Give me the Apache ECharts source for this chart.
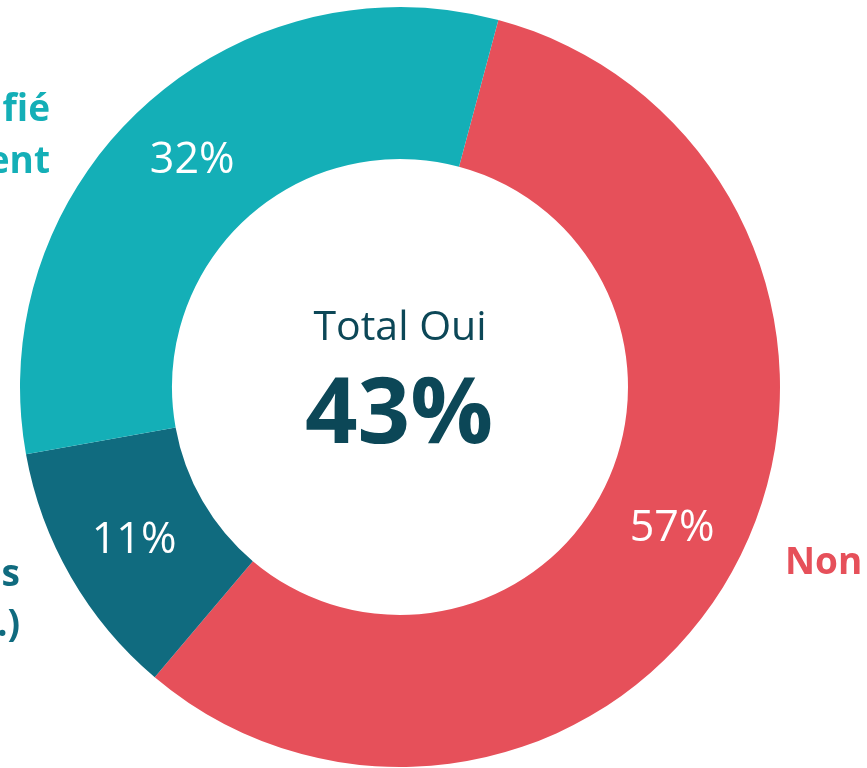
<!DOCTYPE html>
<html>
<head>
<meta charset="utf-8">
<script src="https://cdn.jsdelivr.net/npm/echarts@6/dist/echarts.min.js"></script>
<style>
  html, body { margin: 0; padding: 0; background: #fff; }
  #chart { width: 867px; height: 768px; }
</style>
</head>
<body>
<div id="chart"></div>
<script>
// données
const names = ['Non', 'Oui, via des fonds\n(ETF, OPC, etc.)', 'Oui, diversifié\nrégulièrement']
const values = [57, 11, 32]
const colors = ['#e6505a', '#106b7f', '#14afb7']
const centerTitle = 'Total Oui'
const centerValue = '43%'

const chart = echarts.init(document.getElementById('chart'))
const font = '"Open Sans", "Noto Sans", sans-serif'

chart.setOption({
  animation: false,
  series: [
    {
      type: 'pie',
      center: [400, 387],
      radius: [228, 380],
      startAngle: 75,
      clockwise: true,
      silent: true,
      data: names.map((n, i) => ({ name: n, value: values[i], itemStyle: { color: colors[i] } })),
      label: {
        show: true,
        position: 'inside',
        formatter: p => p.value + '%',
        color: '#fff',
        fontFamily: font,
        fontSize: 43,
        fontWeight: 'normal',
        padding: [22, 0, 0, 0],
      },
      labelLine: { show: false },
    },
  ],
  graphic: [
    // texte central
    {
      type: 'text', x: 400, y: 328,
      style: { text: centerTitle, fill: '#0c4757', font: '400 41px ' + font, textAlign: 'center', textVerticalAlign: 'middle' },
    },
    {
      type: 'text', x: 399, y: 417,
      style: { text: centerValue, fill: '#0c4757', font: '700 92px ' + font, textAlign: 'center', textVerticalAlign: 'middle' },
    },
    // libellés des catégories
    {
      type: 'text', x: 785, y: 563,
      style: { text: names[0], fill: colors[0], font: '700 37px ' + font, textAlign: 'left', textVerticalAlign: 'middle' },
    },
    {
      type: 'text', x: 20, y: 600,
      style: { text: names[1], fill: colors[1], font: '700 37px ' + font, lineHeight: 50, textAlign: 'right', textVerticalAlign: 'middle' },
    },
    {
      type: 'text', x: 50, y: 136,
      style: { text: names[2], fill: colors[2], font: '700 37px ' + font, lineHeight: 52, textAlign: 'right', textVerticalAlign: 'middle' },
    },
  ],
})
</script>
</body>
</html>
